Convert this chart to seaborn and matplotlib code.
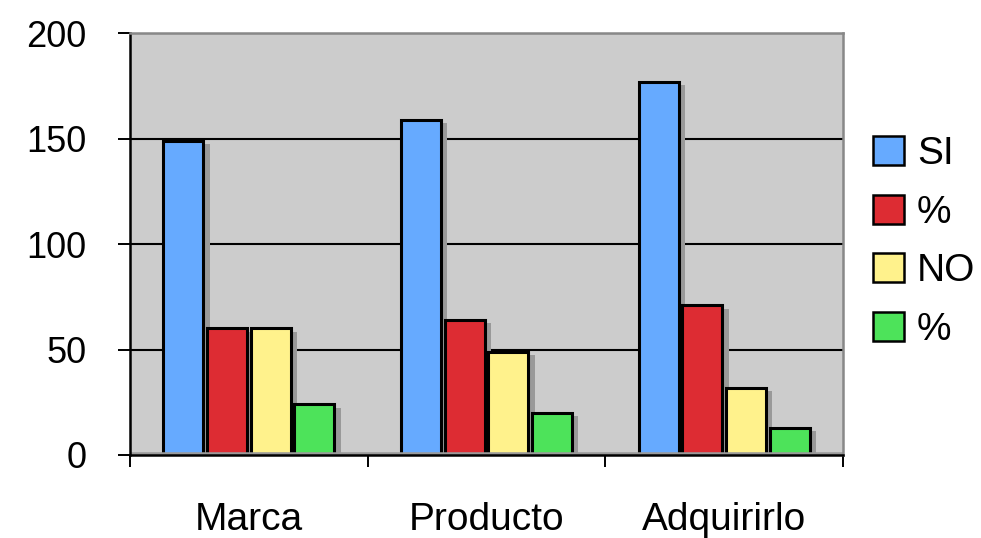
import matplotlib
matplotlib.use("Agg")
import matplotlib.pyplot as plt
import matplotlib.patheffects as pe
from matplotlib.ticker import FixedLocator
import seaborn as sns
import pandas as pd

# Survey results per question
categories = ["Marca", "Producto", "Adquirirlo"]
si_count = [149, 159, 177]
si_pct = [60, 64, 71]
no_count = [60, 49, 32]
no_pct = [24, 20, 13]

series_keys = ["SI", "% SI", "NO", "% NO"]
legend_labels = ["SI", "%", "NO", "%"]
series_colors = ["#66AAFF", "#DD2C33", "#FFF28C", "#4DE35A"]
y_ticks = [0, 50, 100, 150, 200]

rows = []
for key, vals in zip(series_keys, [si_count, si_pct, no_count, no_pct]):
    for cat, v in zip(categories, vals):
        rows.append({"categoria": cat, "serie": key, "valor": v})
df = pd.DataFrame(rows)

sns.set_theme(style="white")
plt.rcParams["font.family"] = ["Liberation Sans", "DejaVu Sans"]
plt.rcParams["text.color"] = "black"
plt.rcParams["xtick.labelcolor"] = "black"
plt.rcParams["ytick.labelcolor"] = "black"

fig = plt.figure(figsize=(9.81, 5.38), dpi=100)
ax = fig.add_axes([0.1325, 0.1543, 0.7268, 0.7838])
ax.set_facecolor("#CCCCCC")

sns.barplot(
    data=df, x="categoria", y="valor", hue="serie",
    order=categories, hue_order=series_keys,
    palette=series_colors, width=0.735, gap=0.085,
    edgecolor="black", linewidth=2.2, saturation=1.0,
    ax=ax, legend=True,
)

# drop shadow behind each bar
shadow = [pe.SimplePatchShadow(offset=(4.5, -2.4), shadow_rgbFace="#999999", alpha=1.0), pe.Normal()]
for p in ax.patches:
    p.set_path_effects(shadow)

# darker floor strip along the base of the plot area
ax.axhline(0, color="#9A9A9A", lw=4, zorder=1)

ax.set_ylim(0, 200)
ax.set_xlim(-0.5, 2.5)
ax.set_xlabel("")
ax.set_ylabel("")

ax.yaxis.set_major_locator(FixedLocator(y_ticks))
ax.set_yticklabels([str(t) for t in y_ticks])
ax.yaxis.grid(True, color="black", lw=1.5)
ax.xaxis.grid(False)
ax.set_axisbelow(True)

ax.tick_params(axis="y", direction="out", length=8.5, width=1.4, color="black",
               pad=23, labelsize=26, labelcolor="black", left=True)
ax.tick_params(axis="x", which="major", length=0, pad=34, labelsize=28, labelcolor="black")
ax.xaxis.set_minor_locator(FixedLocator([-0.5, 0.5, 1.5, 2.5]))
ax.tick_params(axis="x", which="minor", direction="out", length=8.5, width=1.4,
               color="black", bottom=True)

for side in ["left", "bottom"]:
    ax.spines[side].set_color("black")
    ax.spines[side].set_linewidth(1.8)
for side in ["top", "right"]:
    ax.spines[side].set_color("#888888")
    ax.spines[side].set_linewidth(1.8)

handles, _ = ax.get_legend_handles_labels()
if ax.get_legend() is not None:
    ax.get_legend().remove()
for h in handles:
    h.set_path_effects([])
    h.set_edgecolor("black")
    h.set_linewidth(1.8)
fig.legend(
    handles, legend_labels, loc="center left",
    bbox_to_anchor=(873 / 981, 1 - 242 / 538),
    frameon=False, fontsize=28, handlelength=0.8, handleheight=0.76,
    handletextpad=0.33, labelspacing=0.58, borderpad=0, borderaxespad=0,
)

fig.savefig("out.png", dpi=100)
